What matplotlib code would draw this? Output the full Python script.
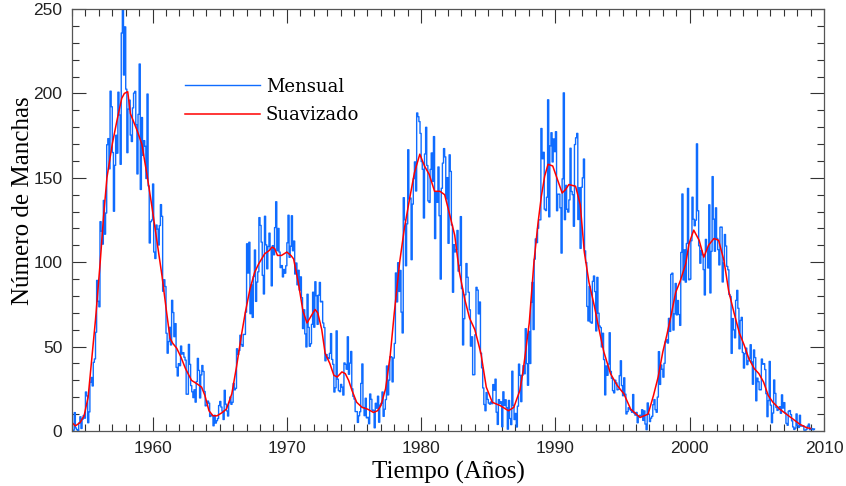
import matplotlib
matplotlib.use('Agg')
import matplotlib.pyplot as plt
from matplotlib.ticker import MultipleLocator
import numpy as np

# monthly sunspot number, Jan 1954 .. Apr 2009 (one row per year)
mensual = [
    0.2, 0.5, 10.9, 1.8, 0.8, 0.2, 4.8, 8.4, 1.5, 7.0, 9.2, 7.6,            # 1954
    23.1, 20.8, 4.9, 11.3, 28.9, 31.7, 26.7, 40.7, 42.7, 58.5, 89.2, 76.9,  # 1955
    73.6, 124.0, 118.4, 110.7, 136.6, 116.6, 129.1, 169.6, 173.2, 155.3, 201.3, 192.1,
    165.0, 130.2, 157.4, 175.2, 164.6, 200.7, 187.2, 158.0, 235.8, 253.8, 210.9, 239.4,
    202.5, 164.9, 190.7, 196.0, 175.3, 171.5, 191.4, 200.2, 201.2, 181.5, 152.3, 187.6,
    217.4, 143.1, 185.7, 163.3, 172.0, 168.7, 149.6, 199.6, 145.2, 111.4, 124.0, 125.0,
    146.3, 106.0, 102.2, 122.0, 119.6, 110.2, 121.7, 134.1, 127.2, 82.8, 89.6, 85.6,  # 1960
    57.9, 46.1, 53.0, 61.4, 51.0, 77.4, 70.2, 55.9, 63.6, 37.7, 32.6, 39.9,
    38.7, 50.3, 45.6, 46.4, 43.7, 42.0, 21.8, 21.8, 51.3, 39.5, 26.9, 23.2,
    19.8, 24.4, 17.1, 29.3, 43.0, 35.9, 19.6, 33.2, 38.8, 35.3, 23.4, 14.9,
    15.3, 17.7, 16.5, 8.6, 9.5, 9.1, 3.1, 9.3, 4.7, 6.1, 7.4, 15.1,
    17.5, 14.2, 11.7, 6.8, 24.1, 15.9, 11.9, 8.9, 16.8, 20.1, 15.8, 17.0,
    28.2, 24.4, 25.3, 48.7, 45.3, 47.7, 56.7, 51.2, 50.2, 57.2, 57.2, 70.4,
    110.9, 93.6, 111.8, 69.5, 86.5, 67.3, 91.5, 107.2, 76.8, 88.2, 94.3, 126.4,
    121.8, 111.9, 92.2, 81.2, 127.2, 110.3, 96.1, 109.3, 117.2, 107.7, 86.0, 109.8,
    104.4, 120.5, 135.8, 106.8, 120.0, 106.0, 96.8, 98.0, 91.3, 95.7, 93.5, 97.9,
    111.5, 127.8, 102.9, 109.5, 127.5, 106.8, 112.5, 93.0, 99.5, 86.6, 95.2, 83.5,  # 1970
    91.3, 79.0, 60.7, 71.8, 57.5, 49.8, 81.0, 61.4, 50.2, 51.7, 63.2, 82.2,
    61.5, 88.4, 80.1, 63.2, 80.5, 88.0, 76.5, 76.8, 64.0, 61.3, 41.6, 45.3,
    43.4, 42.9, 46.0, 57.7, 42.4, 39.5, 23.1, 25.6, 59.3, 30.7, 23.9, 23.3,
    27.6, 26.0, 21.3, 40.3, 39.5, 36.6, 55.8, 33.6, 40.2, 47.1, 25.0, 20.5,
    18.9, 11.5, 11.5, 5.1, 9.0, 11.4, 28.2, 39.7, 13.9, 9.1, 19.4, 7.8,
    8.1, 4.3, 21.9, 18.8, 12.4, 12.2, 1.9, 16.4, 13.5, 20.6, 5.2, 15.3,
    16.4, 23.1, 8.7, 12.9, 18.6, 38.5, 21.4, 30.1, 44.0, 43.8, 29.1, 43.2,
    51.9, 93.6, 76.5, 99.7, 82.7, 95.1, 70.4, 58.1, 138.2, 125.1, 97.9, 122.7,
    166.6, 137.5, 138.0, 101.5, 134.4, 149.5, 159.4, 142.2, 188.4, 186.2, 183.3, 176.3,
    159.6, 155.0, 126.2, 164.1, 179.9, 157.3, 136.3, 135.4, 155.0, 164.7, 147.9, 174.4,  # 1980
    114.0, 141.3, 135.5, 156.4, 127.5, 90.0, 143.8, 158.7, 167.3, 162.4, 137.5, 150.1,
    111.2, 163.6, 153.8, 122.0, 82.2, 110.4, 106.1, 107.6, 118.8, 94.7, 98.1, 127.0,
    84.3, 51.0, 66.5, 80.7, 99.2, 91.1, 82.2, 71.8, 50.3, 55.8, 33.3, 33.4,
    57.0, 85.1, 83.5, 69.4, 76.4, 46.1, 37.4, 25.5, 15.7, 12.0, 22.8, 18.7,
    16.5, 15.9, 17.2, 16.2, 27.5, 24.2, 30.7, 11.1, 3.9, 18.6, 16.2, 17.3,
    2.5, 23.2, 15.1, 18.5, 13.7, 1.1, 18.1, 7.4, 3.8, 35.4, 15.2, 6.8,
    10.4, 2.4, 14.7, 39.6, 33.0, 17.4, 33.0, 38.7, 33.9, 60.6, 39.9, 27.1,
    59.0, 40.0, 76.2, 88.0, 60.1, 101.8, 113.8, 111.6, 120.1, 125.1, 125.1, 179.2,
    161.3, 165.1, 131.4, 130.6, 138.5, 196.2, 126.9, 168.9, 176.7, 159.4, 173.0, 165.5,
    177.3, 130.5, 140.3, 140.3, 132.2, 105.4, 149.4, 200.3, 125.2, 145.5, 131.4, 129.7,  # 1990
    136.9, 167.5, 141.9, 140.0, 121.3, 169.7, 173.7, 176.3, 125.3, 144.1, 108.2, 144.4,
    150.0, 161.1, 106.7, 99.8, 73.8, 65.2, 85.7, 64.5, 63.9, 88.7, 91.8, 82.6,
    59.3, 91.0, 69.8, 62.2, 61.3, 49.8, 57.9, 42.3, 21.4, 38.5, 33.0, 39.7,
    58.2, 35.3, 31.2, 23.9, 22.6, 30.1, 28.5, 24.4, 24.7, 32.8, 41.6, 26.9,
    20.9, 31.5, 21.8, 10.1, 11.5, 13.8, 13.0, 12.2, 11.1, 21.6, 10.6, 9.4,
    11.0, 4.9, 8.9, 9.3, 8.8, 12.6, 6.3, 11.9, 4.1, 0.8, 16.6, 10.0,
    5.6, 7.6, 8.7, 15.6, 18.6, 12.6, 11.1, 20.1, 47.0, 27.6, 39.1, 36.6,
    31.9, 40.1, 52.8, 54.0, 52.1, 66.7, 59.0, 92.8, 93.5, 59.8, 69.4, 87.4,
    68.8, 77.3, 69.0, 62.6, 105.8, 140.4, 89.5, 107.3, 88.2, 111.1, 143.7, 89.6,
    90.0, 112.7, 138.5, 125.5, 121.6, 124.9, 170.1, 130.5, 109.7, 99.4, 106.8, 104.4,  # 2000
    95.6, 80.6, 113.5, 107.7, 96.6, 134.0, 81.8, 106.4, 150.7, 125.5, 106.5, 132.2,
    114.1, 107.4, 98.4, 120.7, 120.8, 88.3, 99.6, 116.4, 109.6, 97.5, 95.5, 80.8,
    79.7, 46.0, 66.6, 59.9, 55.2, 77.4, 83.3, 72.7, 48.7, 65.5, 67.3, 46.5,
    37.3, 45.8, 49.1, 39.3, 41.5, 43.2, 51.1, 40.9, 27.7, 48.0, 43.5, 17.9,
    31.3, 29.2, 24.5, 24.4, 42.6, 39.6, 39.9, 36.4, 22.1, 8.5, 18.0, 41.2,
    15.3, 4.9, 10.6, 30.2, 22.3, 13.9, 12.2, 12.9, 14.4, 10.5, 21.4, 13.6,
    16.8, 10.7, 4.5, 3.4, 11.7, 12.1, 9.7, 6.0, 2.4, 0.9, 1.7, 10.1,
    3.3, 2.1, 9.3, 2.9, 2.9, 3.1, 0.5, 0.5, 1.1, 2.9, 4.1, 0.8,
    1.5, 1.4, 0.7, 1.2,                                                      # 2009
]
inicio = 1954.0

# smoothed curve
suav_t = [1954.0, 1954.25, 1954.6, 1954.9, 1955.2, 1955.5, 1955.75, 1956.1, 1956.35, 1956.6,
          1957.0, 1957.35, 1957.7, 1957.9, 1958.15, 1958.35, 1958.6, 1958.85, 1959.2, 1959.6,
          1959.95, 1960.3, 1960.7, 1961.05, 1961.3, 1961.5, 1961.8, 1962.1, 1962.45, 1962.9,
          1963.3, 1963.65, 1963.9, 1964.2, 1964.5, 1964.8, 1965.2, 1965.5, 1965.9, 1966.25,
          1966.6, 1966.9, 1967.25, 1967.6, 1967.9, 1968.35, 1968.7, 1968.9, 1969.1, 1969.3,
          1969.6, 1970.0, 1970.3, 1970.5, 1970.85, 1971.2, 1971.5, 1971.8, 1972.1, 1972.3,
          1972.6, 1972.85, 1973.2, 1973.5, 1973.75, 1974.1, 1974.35, 1974.6, 1974.85, 1975.2,
          1975.6, 1976.0, 1976.45, 1976.75, 1977.0, 1977.35, 1977.7, 1978.0, 1978.4, 1978.75,
          1979.15, 1979.5, 1979.9, 1980.25, 1980.6, 1981.0, 1981.4, 1981.75, 1982.1, 1982.5,
          1982.85, 1983.25, 1983.6, 1984.0, 1984.45, 1984.85, 1985.3, 1985.9, 1986.5, 1986.9,
          1987.35, 1987.6, 1988.05, 1988.4, 1988.7, 1988.95, 1989.2, 1989.45, 1989.8, 1990.15,
          1990.5, 1990.75, 1991.0, 1991.5, 1991.85, 1992.15, 1992.5, 1992.9, 1993.25, 1993.6,
          1994.1, 1994.6, 1995.1, 1995.6, 1996.3, 1996.9, 1997.3, 1997.65, 1998.0, 1998.3,
          1998.6, 1998.95, 1999.3, 1999.7, 1999.95, 2000.3, 2000.7, 2001.05, 2001.4, 2001.8,
          2002.15, 2002.55, 2002.9, 2003.3, 2003.7, 2004.05, 2004.4, 2004.8, 2005.15, 2005.5,
          2005.85, 2006.2, 2006.7, 2007.2, 2007.7, 2008.2, 2008.7, 2009.0]
suav_v = [5, 3, 5, 9, 20, 45, 66, 100, 127, 150,
          170, 184, 197, 200, 201, 188, 183, 178, 170, 151,
          133, 114, 92, 70, 55, 52, 49, 44, 37, 30,
          28, 26, 21, 12, 9, 9, 11, 13, 22, 38,
          56, 70, 84, 94, 99, 105, 107, 109, 108, 104,
          104, 106, 104, 102, 88, 71, 64, 68, 72, 70,
          60, 46, 40, 33, 32, 35, 34, 30, 24, 17,
          14, 13, 11, 12, 15, 25, 45, 70, 100, 120,
          138, 153, 164, 157, 152, 142, 142, 140, 129, 116,
          94, 78, 67, 60, 46, 26, 17, 15, 12, 14,
          24, 36, 64, 100, 123, 139, 151, 158, 157, 149,
          141, 143, 146, 145, 134, 106, 88, 74, 60, 47,
          34, 27, 22, 13, 8, 10, 21, 32, 47, 57,
          68, 82, 89, 99, 111, 119, 113, 103, 110, 114,
          113, 101, 83, 70, 58, 51, 43, 37, 34, 29,
          21, 17, 13, 10, 7, 4, 2, 1.5]

t_mensual = inicio + (np.arange(len(mensual)) + 0.5) / 12.0

serif = 'Liberation Serif'
sans = 'Liberation Sans'

fig = plt.figure(figsize=(8.46, 4.86), dpi=100)
ax = fig.add_axes([72 / 846, 55 / 486, 752 / 846, 422 / 486])

ax.plot(t_mensual, mensual, drawstyle='steps-mid', color='#0f6cff', lw=1.0, label='Mensual')
ax.plot(suav_t, suav_v, color='#ff0000', lw=1.1, label='Suavizado')

ax.set_xlim(1954, 2010)
ax.set_ylim(0, 250)
ax.xaxis.set_major_locator(MultipleLocator(10))
ax.xaxis.set_minor_locator(MultipleLocator(1))
ax.yaxis.set_major_locator(MultipleLocator(50))
ax.yaxis.set_minor_locator(MultipleLocator(10))
ax.tick_params(which='both', direction='in', top=True, right=True, color='#333333')
ax.tick_params(which='major', length=10, width=0.8, pad=7, labelsize=12.5)
ax.tick_params(which='minor', length=5, width=0.8)
for lab in ax.get_xticklabels() + ax.get_yticklabels():
    lab.set_family(sans)
    lab.set_color('#222222')
for s in ax.spines.values():
    s.set_color('#555555')
    s.set_linewidth(0.9)

ax.set_xlabel('Tiempo (Años)', family=serif, fontsize=18, labelpad=4)
ax.set_ylabel('Número de Manchas', family=serif, fontsize=18)
ax.yaxis.set_label_coords(-0.05, 0.545)

ax.legend(loc='upper left', bbox_to_anchor=(0.150, 0.837), frameon=False,
          prop={'family': 'DejaVu Serif', 'size': 13},
          handlelength=4.15, handletextpad=0.33, labelspacing=0.56,
          borderpad=0, borderaxespad=0)

fig.savefig('out.png', dpi=100)
